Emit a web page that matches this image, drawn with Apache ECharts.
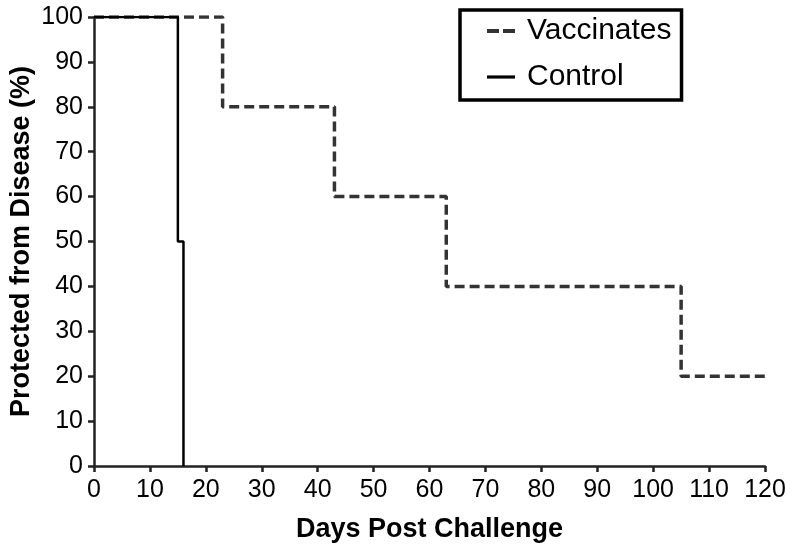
<!DOCTYPE html>
<html>
<head>
<meta charset="utf-8">
<script src="https://cdn.jsdelivr.net/npm/echarts@6/dist/echarts.min.js"></script>
<style>
html,body{margin:0;padding:0;background:#fff;}
#chart{width:793px;height:550px;}
</style>
</head>
<body>
<div id="chart"></div>
<script>
// Kaplan-Meier style data (day, % protected)
const vaccinatesDays = [0, 23, 43, 63, 105, 120];
const vaccinatesPct  = [100, 80, 60, 40, 20, 20];
const controlDays    = [0, 15, 16];
const controlPct     = [100, 50, 0];
const xTicks = {min: 0, max: 120, interval: 10};
const yTicks = {min: 0, max: 100, interval: 10};
const seriesNames = ['Vaccinates', 'Control'];

const toPairs = (xs, ys) => xs.map((x, i) => [x, ys[i]]);

const FONT = '"Liberation Sans", Arial, Helvetica, sans-serif';
const chart = echarts.init(document.getElementById('chart'), null, {renderer: 'canvas'});
const axisCommon = {
  axisLine: {show: true, lineStyle: {color: '#222', width: 2.5}},
  axisTick: {show: true, inside: false, length: 6, lineStyle: {color: '#222', width: 2.5}},
  splitLine: {show: false},
  axisLabel: {color: '#000', fontSize: 25, fontFamily: FONT},
  nameTextStyle: {color: '#000', fontSize: 27, fontWeight: 'bold', fontFamily: FONT},
  nameLocation: 'middle',
  nameMoveOverlap: false
};
chart.setOption({
  backgroundColor: '#fff',
  animation: false,
  grid: {left: 94, right: 28, top: 17, bottom: 84, containLabel: false, outerBoundsMode: 'none'},
  xAxis: Object.assign({}, axisCommon, {
    type: 'value', min: xTicks.min, max: xTicks.max, interval: xTicks.interval,
    name: 'Days Post Challenge', nameGap: 50,
    axisLabel: Object.assign({}, axisCommon.axisLabel, {margin: 12})
  }),
  yAxis: Object.assign({}, axisCommon, {
    type: 'value', min: yTicks.min, max: yTicks.max, interval: yTicks.interval,
    name: 'Protected from Disease (%)', nameGap: 59,
    axisLabel: Object.assign({}, axisCommon.axisLabel, {margin: 11})
  }),
  legend: {
    orient: 'vertical',
    left: 460, top: 10,
    padding: [6, 10, 8, 27],
    itemGap: 16,
    itemWidth: 28, itemHeight: 4,
    borderColor: '#000', borderWidth: 3.5,
    backgroundColor: '#fff',
    textStyle: {color: '#000', fontSize: 30, fontFamily: FONT, padding: [0, 0, 0, 7]},
    data: [
      {name: seriesNames[0], icon: 'path://M0,0H12V4H0Z M16,0H28V4H16Z', itemStyle: {color: '#333'}},
      {name: seriesNames[1], icon: 'path://M0,0H28V3.2H0Z', itemStyle: {color: '#000'}}
    ]
  },
  series: [
    {
      name: seriesNames[0], type: 'line', step: 'end',
      data: toPairs(vaccinatesDays, vaccinatesPct),
      symbol: 'none', showSymbol: false,
      lineStyle: {color: '#333', width: 3.5, type: [10, 5]},
      itemStyle: {color: '#333'},
      z: 2
    },
    {
      name: seriesNames[1], type: 'line', step: 'end',
      data: toPairs(controlDays, controlPct),
      symbol: 'none', showSymbol: false,
      lineStyle: {color: '#000', width: 2.5, type: 'solid'},
      itemStyle: {color: '#000'},
      z: 3
    }
  ]
});
</script>
</body>
</html>
